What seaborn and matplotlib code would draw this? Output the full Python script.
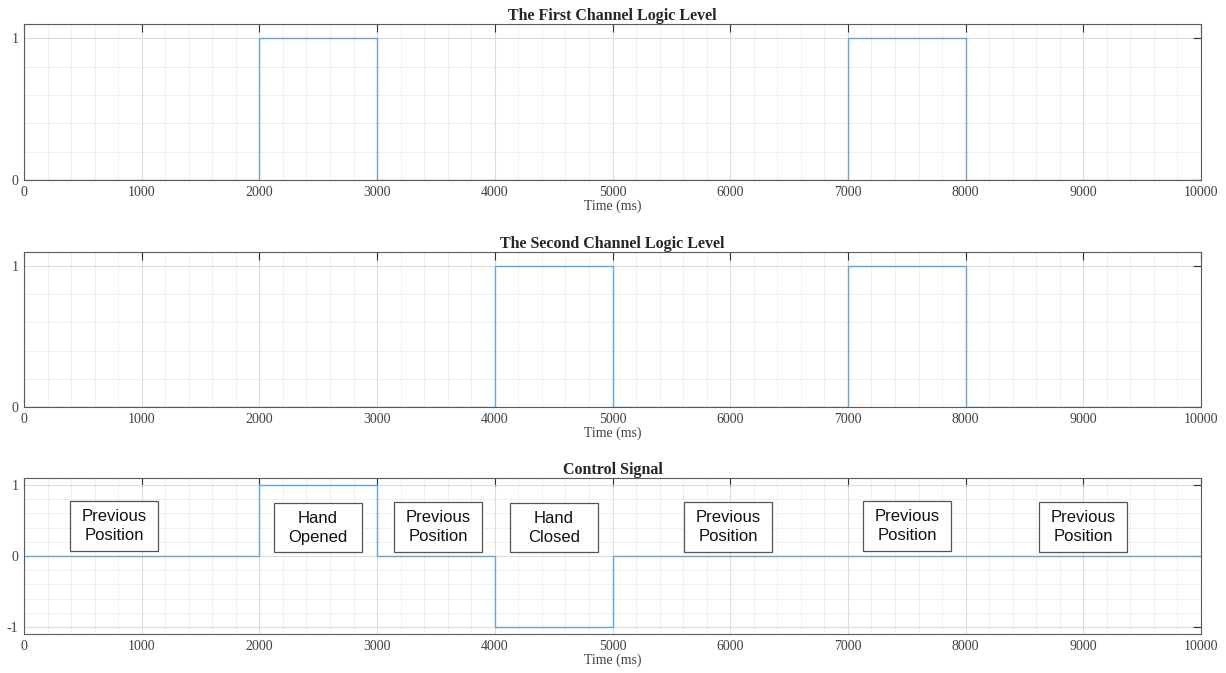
import numpy as np
import pandas as pd
import seaborn as sns
import matplotlib.pyplot as plt
from matplotlib.patches import Rectangle
from matplotlib.ticker import MultipleLocator

# breakpoints of the step signals (ms) and levels
time_ms = [0, 2000, 3000, 4000, 5000, 7000, 8000, 10000]
ch1_level = [0, 1, 0, 0, 0, 1, 0, 0]
ch2_level = [0, 0, 0, 1, 0, 1, 0, 0]
control_level = [0, 1, 0, -1, 0, 0, 0, 0]

# annotation boxes on the control signal
label_x = [765, 2498, 3517, 4503, 5985, 7502, 8997]
label_text = ["Previous\nPosition", "Hand\nOpened", "Previous\nPosition", "Hand\nClosed",
              "Previous\nPosition", "Previous\nPosition", "Previous\nPosition"]
label_y = [0.42, 0.40, 0.41, 0.40, 0.41, 0.42, 0.41]

titles = ["The First Channel Logic Level", "The Second Channel Logic Level", "Control Signal"]

sns.set_style("white")
plt.rcParams['font.family'] = ['Liberation Serif', 'DejaVu Serif']
plt.rcParams['axes.unicode_minus'] = False

df = pd.DataFrame({"t": time_ms, "ch1": ch1_level, "ch2": ch2_level, "ctrl": control_level})

fig = plt.figure(figsize=(12.26, 6.73), dpi=100)
left, width = 24 / 1226, (1201 - 24) / 1226
boxes = [(24, 180), (252, 407), (478, 634)]
line_col = "#64a6da"
edge_col = "#5a5a5a"
tick_col = "#404040"

for i, (col, title) in enumerate(zip(["ch1", "ch2", "ctrl"], titles)):
    top, bot = boxes[i]
    ax = fig.add_axes([left, 1 - bot / 673, width, (bot - top) / 673])
    sns.lineplot(data=df, x="t", y=col, ax=ax, color=line_col, linewidth=1.0,
                 drawstyle="steps-post", estimator=None)
    ax.set_xlim(0, 10000)
    if col == "ctrl":
        ax.set_ylim(-1.1, 1.1)
        ax.set_yticks([-1, 0, 1])
    else:
        ax.set_ylim(0, 1.1)
        ax.set_yticks([0, 1])
    ax.set_xticks(np.arange(0, 10001, 1000))
    ax.xaxis.set_minor_locator(MultipleLocator(200))
    ax.yaxis.set_minor_locator(MultipleLocator(0.2))
    ax.grid(which="major", color="#dcdcdc", linewidth=0.8)
    ax.grid(which="minor", color="#ececec", linewidth=0.6)
    ax.set_axisbelow(True)
    ax.tick_params(which="major", direction="in", length=6, width=0.8, color="#303030",
                   top=True, right=True, labelsize=10, labelcolor=tick_col, pad=4)
    ax.tick_params(which="minor", length=0)
    for s in ax.spines.values():
        s.set_color(edge_col)
        s.set_linewidth(0.8)
    ax.set_ylabel("")
    ax.set_xlabel("Time (ms)", fontsize=10, color=tick_col, labelpad=1)
    ax.set_title(title, fontsize=11.5, fontweight="bold", pad=3)

    if col == "ctrl":
        bw, bh = 748, 0.70
        for xv, yv, txt in zip(label_x, label_y, label_text):
            ax.add_patch(Rectangle((xv - bw / 2, yv - bh / 2), bw, bh, facecolor="white",
                                   edgecolor="#555555", linewidth=0.9, zorder=3))
            ax.text(xv, yv, txt, ha="center", va="center", fontsize=12,
                    family=["Liberation Sans", "DejaVu Sans"], color="#111111",
                    linespacing=1.35, zorder=4)

fig.savefig("out.png", dpi=100)
